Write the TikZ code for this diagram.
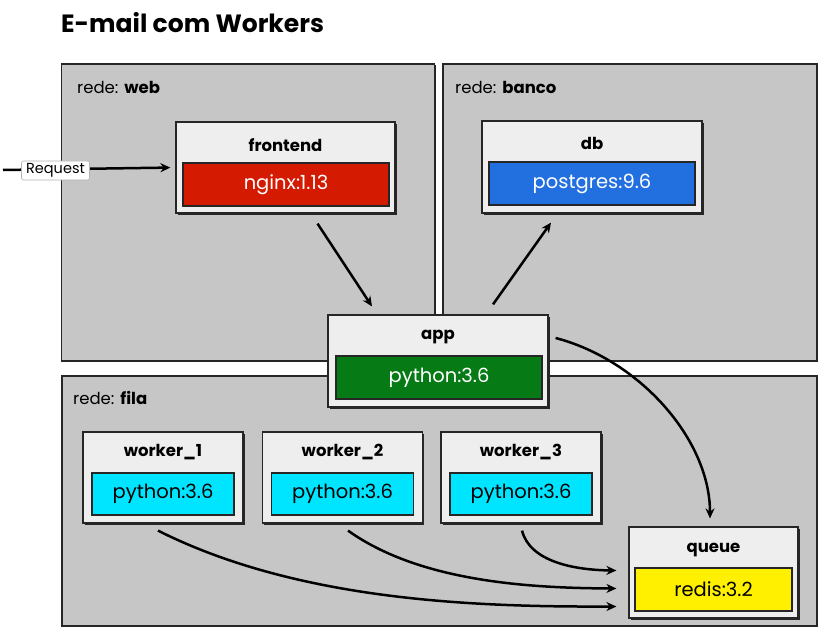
\documentclass[tikz,border=0pt]{standalone}
\usepackage{fontspec}
\setmainfont{Poppins}
\usetikzlibrary{calc,shadows,arrows.meta}
\definecolor{regiongray}{RGB}{198,198,198}
\definecolor{boxgray}{RGB}{238,238,238}
\definecolor{cred}{RGB}{212,26,0}
\definecolor{cblue}{RGB}{34,112,224}
\definecolor{cgreen}{RGB}{6,122,20}
\definecolor{ccyan}{RGB}{0,229,255}
\definecolor{cyellow}{RGB}{255,240,0}
\tikzset{
  region/.style={draw=black!85, line width=1.4pt, fill=regiongray, rectangle, inner sep=0pt,
    drop shadow={shadow xshift=1.4pt, shadow yshift=-1.4pt, fill=black!85, opacity=1}},
  cbox/.style={draw=black!85, line width=1.2pt, fill=boxgray, rectangle, inner sep=0pt,
    drop shadow={shadow xshift=1.7pt, shadow yshift=-1.7pt, fill=black!85, opacity=1}},
  ibox/.style={draw=black!85, line width=1.2pt, rectangle, inner sep=0pt, font=\fontsize{19.5}{23}\selectfont},
  ttl/.style={font=\fontsize{16.5}{20}\selectfont\bfseries, inner sep=0pt},
  rlabel/.style={font=\fontsize{16.5}{20}\selectfont, anchor=west, inner sep=0pt},
  arr/.style={line width=2.5pt, -{Stealth[length=10pt,width=9pt]}},
}
\begin{document}
\begin{tikzpicture}[x=1pt,y=-1pt]
\useasboundingbox (0,0) rectangle (824,636);
\fill[white] (0,0) rectangle (824,636);
% title
\node[anchor=west, inner sep=0pt, font=\fontsize{25}{30}\selectfont\bfseries] (title) at (61,23) {E-mail com Workers};
% regions
\node[region, minimum width=373pt, minimum height=297pt] (web) at (248,212.5) {};
\node[region, minimum width=374pt, minimum height=297pt] (banco) at (630,212.5) {};
\node[region, minimum width=755pt, minimum height=250pt] (fila) at (439.5,501) {};
\node[rlabel] (lweb) at (77,87) {rede: \textbf{web}};
\node[rlabel] (lbanco) at (455,87) {rede: \textbf{banco}};
\node[rlabel] (lfila) at (73,398) {rede: \textbf{fila}};
% frontend
\node[cbox, minimum width=219pt, minimum height=91pt] (frontend) at (285.5,167.5) {};
\node[ttl] (tfrontend) at (285.5,145) {frontend};
\node[ibox, fill=cred, text=white, minimum width=206pt, minimum height=43pt] (ifrontend) at (286,184.5) {nginx:1.13};
% db
\node[cbox, minimum width=220pt, minimum height=92pt] (db) at (592,167) {};
\node[ttl] (tdb) at (592,143) {db};
\node[ibox, fill=cblue, text=white, minimum width=206pt, minimum height=43pt] (idb) at (592,183.5) {postgres:9.6};
% app
\node[cbox, minimum width=220pt, minimum height=92pt] (app) at (438,361) {};
\node[ttl] (tapp) at (438,337) {app};
\node[ibox, fill=cgreen, text=white, minimum width=206pt, minimum height=43pt] (iapp) at (439,377.5) {python:3.6};
% workers
\foreach \n/\cx in {1/163, 2/342.5, 3/521}{
  \node[cbox, minimum width=160pt, minimum height=91pt] (worker\n) at (\cx,477.5) {};
  \node[ttl] (tworker\n) at (\cx,452) {worker\_\n};
  \node[ibox, fill=ccyan, text=black, minimum width=142pt, minimum height=42pt] (iworker\n) at (\cx,494) {python:3.6};
}
% queue
\node[cbox, minimum width=169pt, minimum height=91pt] (queue) at (713.5,572.5) {};
\node[ttl] (tqueue) at (713.5,550) {queue};
\node[ibox, fill=cyellow, text=black, minimum width=157pt, minimum height=43pt] (iqueue) at (713.5,589.5) {redis:3.2};
% request
\coordinate (reqstart) at (3,170);
\draw[arr, shorten >=5pt] (reqstart) -- (frontend.west);
\node[draw=black!30, fill=white, rounded corners=2pt, line width=0.6pt, inner sep=1pt,
  minimum width=68pt, minimum height=19pt, font=\fontsize{14.5}{17}\selectfont] (req) at (55.5,170.5) {Request};
% connectors
\draw[arr] ($(frontend.south)+(32,10)$) -- ($(app.north)+(-66,-8)$);
\draw[arr] ($(app.north)+(55,-10)$) -- ($(db.south)+(-41,9)$);
\draw[arr] ($(app.east)+(7,-23)$) .. controls (640,360) and (710,440) .. ($(queue.north)+(-3.5,-8)$);
\draw[arr] ($(worker3.south)+(1,7)$) .. controls (530,562) and (575,570) .. ($(queue.west)+(-12,-2)$);
\draw[arr] ($(worker2.south)+(5.5,7)$) .. controls (420,582) and (530,588) .. ($(queue.west)+(-12,16)$);
\draw[arr] ($(worker1.south)+(-5,7)$) .. controls (300,602) and (480,607) .. ($(queue.west)+(-12,34)$);
\end{tikzpicture}
\end{document}
